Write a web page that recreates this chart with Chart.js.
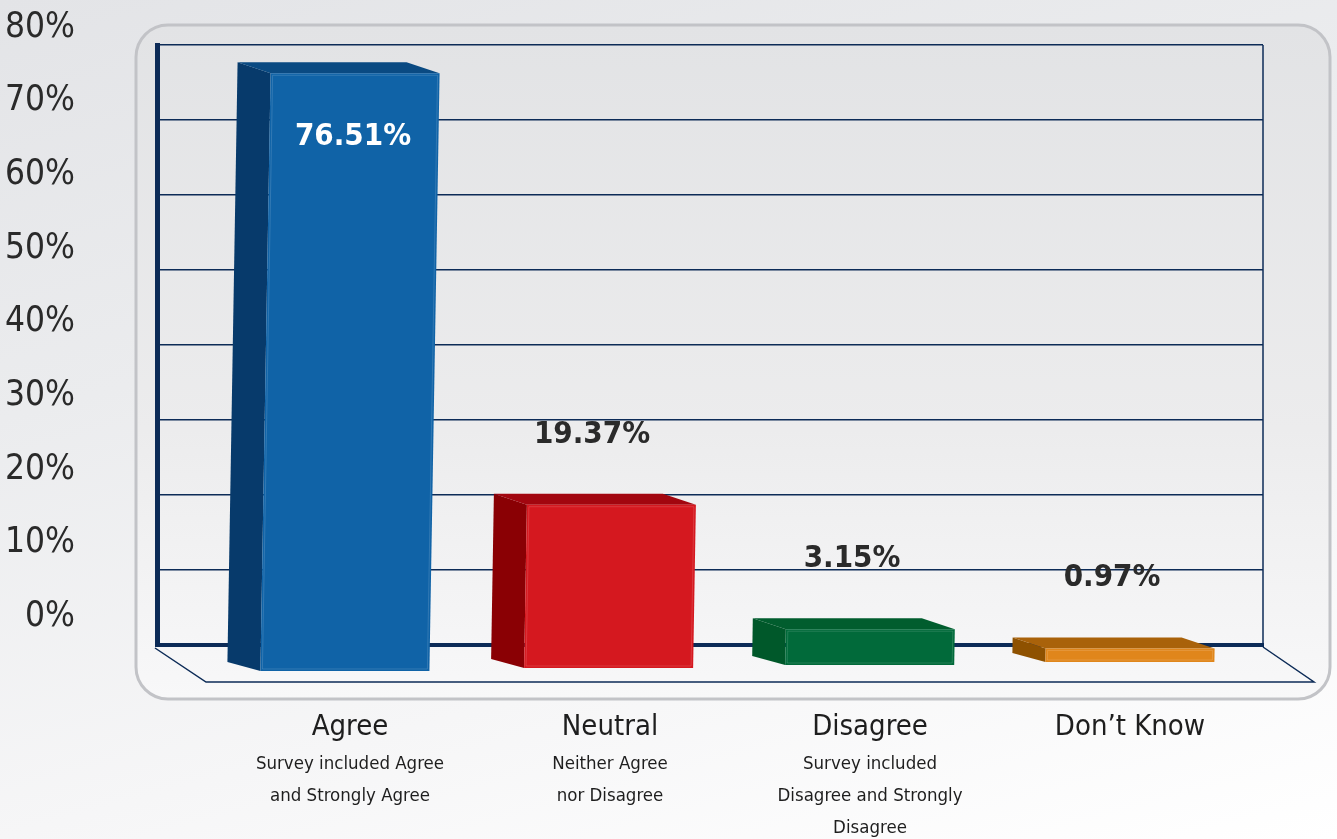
<!DOCTYPE html>
<html>
<head>
<meta charset="utf-8">
<script src="https://cdn.jsdelivr.net/npm/chart.js@4.4.1/dist/chart.umd.min.js"></script>
<style>
  html, body { margin: 0; padding: 0; }
  body {
    width: 1337px; height: 839px; overflow: hidden;
    background: linear-gradient(165deg, #e3e4e7 0%, #ebecee 35%, #f6f6f7 70%, #ffffff 100%);
  }
  canvas { display: block; }
</style>
</head>
<body>
<canvas id="chart" width="1337" height="839"></canvas>
<script>
// ---- data ----
const categories = ['Agree', 'Neutral', 'Disagree', 'Don\u2019t Know'];
const subtitles = [
  ['Survey included Agree', 'and Strongly Agree'],
  ['Neither Agree', 'nor Disagree'],
  ['Survey included', 'Disagree and Strongly', 'Disagree'],
  []
];
const shares = [76.51, 19.37, 3.15, 0.97];
const percentTicks = [0, 10, 20, 30, 40, 50, 60, 70, 80];
const percentTickLabels = ['0%', '10%', '20%', '30%', '40%', '50%', '60%', '70%', '80%'];

// ---- styles ----
const frontColors = ['#1063a7', '#d5181f', '#016a3a', '#e0861b'];
const sideColors  = ['#073a6b', '#8a0004', '#00582a', '#8e5100'];
const topColors   = ['#0a4a82', '#a2060f', '#015d2e', '#a9620a'];
const NAVY = '#0c2b57';
const NARROW = "'DejaVu Sans Condensed', 'Liberation Sans Narrow', sans-serif";

function poly(ctx, pts, fill) {
  ctx.beginPath();
  ctx.moveTo(pts[0][0], pts[0][1]);
  for (let i = 1; i < pts.length; i++) ctx.lineTo(pts[i][0], pts[i][1]);
  ctx.closePath();
  ctx.fillStyle = fill;
  ctx.fill();
}

// Rounded panel, floor, back-wall edge and extruded boxes for each bar
const boxes3d = {
  id: 'boxes3d',
  beforeDraw(chart) {
    const ctx = chart.ctx;
    const x0 = 136, y0 = 25, x1 = 1330, y1 = 699, r = 32;
    ctx.save();
    const g = ctx.createLinearGradient(0, y0, 0, y1);
    g.addColorStop(0, '#e2e3e5');
    g.addColorStop(0.6, '#ececed');
    g.addColorStop(1, '#f8f8f9');
    ctx.beginPath();
    ctx.roundRect(x0, y0, x1 - x0, y1 - y0, r);
    ctx.fillStyle = g;
    ctx.fill();
    ctx.lineWidth = 3;
    ctx.strokeStyle = '#c2c3c7';
    ctx.stroke();
    ctx.restore();
  },
  beforeDatasetsDraw(chart) {
    const ctx = chart.ctx;
    const a = chart.chartArea;
    ctx.save();
    ctx.strokeStyle = NAVY;
    ctx.lineWidth = 1.5;
    // right edge of the back wall
    ctx.beginPath();
    ctx.moveTo(a.right, a.top);
    ctx.lineTo(a.right, a.bottom);
    ctx.stroke();
    // floor outline
    ctx.beginPath();
    ctx.moveTo(a.left - 2, a.bottom + 3);
    ctx.lineTo(a.left + 49, a.bottom + 37);
    ctx.lineTo(a.right + 51, a.bottom + 37);
    ctx.lineTo(a.right, a.bottom + 2);
    ctx.stroke();
    ctx.restore();
  },
  afterDatasetsDraw(chart) {
    const ctx = chart.ctx;
    const a = chart.chartArea;
    const meta = chart.getDatasetMeta(0);
    const depth = 33, rise = 11, riseBottom = 9;
    ctx.save();
    meta.data.forEach((el, i) => {
      const p = el.getProps(['x', 'y', 'width'], true);
      const rel = p.x - a.left;
      const top = p.y + 0.011 * rel;
      const bottom = a.bottom + 28.2 - 0.0115 * rel;
      const skew = 0.017 * (bottom - top);
      const hw = p.width / 2;
      const TL = [p.x - hw + skew / 2, top];
      const TR = [p.x + hw + skew / 2, top];
      const BR = [p.x + hw - skew / 2, bottom];
      const BL = [p.x - hw - skew / 2, bottom];
      // left side face
      poly(ctx, [TL, BL, [BL[0] - depth, bottom - riseBottom], [TL[0] - depth, top - rise]], sideColors[i]);
      // top face
      poly(ctx, [TL, TR, [TR[0] - depth, top - rise], [TL[0] - depth, top - rise]], topColors[i]);
      // front face
      poly(ctx, [TL, TR, BR, BL], frontColors[i]);
      ctx.beginPath();
      ctx.moveTo(TL[0] + 2, TL[1] + 2);
      ctx.lineTo(TR[0] - 2, TR[1] + 2);
      ctx.lineTo(BR[0] - 2, BR[1] - 2);
      ctx.lineTo(BL[0] + 2, BL[1] - 2);
      ctx.closePath();
      ctx.strokeStyle = 'rgba(255,255,255,0.14)';
      ctx.lineWidth = 1;
      ctx.stroke();

      // value label
      const label = shares[i].toFixed(2) + '%';
      ctx.font = 'bold 31px ' + NARROW;
      ctx.textAlign = 'center';
      ctx.textBaseline = 'middle';
      if (i === 0) {
        ctx.fillStyle = '#ffffff';
        ctx.fillText(label, p.x + 3, top + 64);
      } else {
        ctx.fillStyle = '#2a2a2a';
        ctx.fillText(label, p.x - 18, top - 70);
      }
    });

    // category descriptions under the axis labels
    const xs = chart.scales.x;
    ctx.font = '18.5px ' + NARROW;
    ctx.fillStyle = '#1e1e1e';
    ctx.textAlign = 'center';
    ctx.textBaseline = 'middle';
    subtitles.forEach((lines, i) => {
      const x = xs.getPixelForValue(i);
      lines.forEach((t, j) => ctx.fillText(t, x, a.bottom + 119 + 32 * j));
    });
    ctx.restore();
  }
};

new Chart(document.getElementById('chart'), {
  type: 'bar',
  data: {
    datasets: [{
      data: shares.map((v, i) => ({ x: i, y: v })),
      backgroundColor: 'rgba(0,0,0,0)',
      borderWidth: 0,
      barPercentage: 0.65,
      categoryPercentage: 1
    }]
  },
  options: {
    responsive: false,
    animation: false,
    layout: { padding: { left: 0, top: 45, right: 74, bottom: 0 } },
    plugins: { legend: { display: false }, tooltip: { enabled: false } },
    scales: {
      x: {
        type: 'linear',
        offset: false,
        min: -0.7423,
        max: 3.5115,
        grid: { display: false, drawTicks: false, offset: false },
        border: { display: true, color: NAVY, width: 4 },
        ticks: {
          stepSize: 1,
          includeBounds: false,
          autoSkip: false,
          maxRotation: 0,
          padding: 65,
          color: '#1e1e1e',
          font: { family: NARROW, size: 29 },
          callback: v => Number.isInteger(v) ? categories[v] : ''
        },
        afterFit: s => { s.height = 194; s.paddingLeft = 0; s.paddingRight = 0; }
      },
      y: {
        type: 'linear',
        position: 'left',
        weight: 0,
        min: 0,
        max: 80,
        grid: { color: NAVY, lineWidth: 1.5, drawTicks: false },
        border: { display: true, color: NAVY, width: 5 },
        ticks: { stepSize: 10, display: false },
        afterFit: s => { s.width = 0; s.paddingTop = 0; s.paddingBottom = 0; }
      },
      yLabels: {
        type: 'linear',
        position: 'left',
        weight: 1,
        min: -3.80,
        max: 77.63,
        grid: { display: false, drawTicks: false },
        border: { display: false },
        afterBuildTicks: s => { s.ticks = percentTicks.map(v => ({ value: v })); },
        ticks: {
          autoSkip: false,
          padding: 82,
          color: '#2a2a2a',
          font: { family: NARROW, size: 35 },
          callback: v => percentTickLabels[percentTicks.indexOf(v)]
        },
        afterFit: s => { s.width = 157; s.paddingTop = 0; s.paddingBottom = 0; }
      }
    }
  },
  plugins: [boxes3d]
});
</script>
</body>
</html>
